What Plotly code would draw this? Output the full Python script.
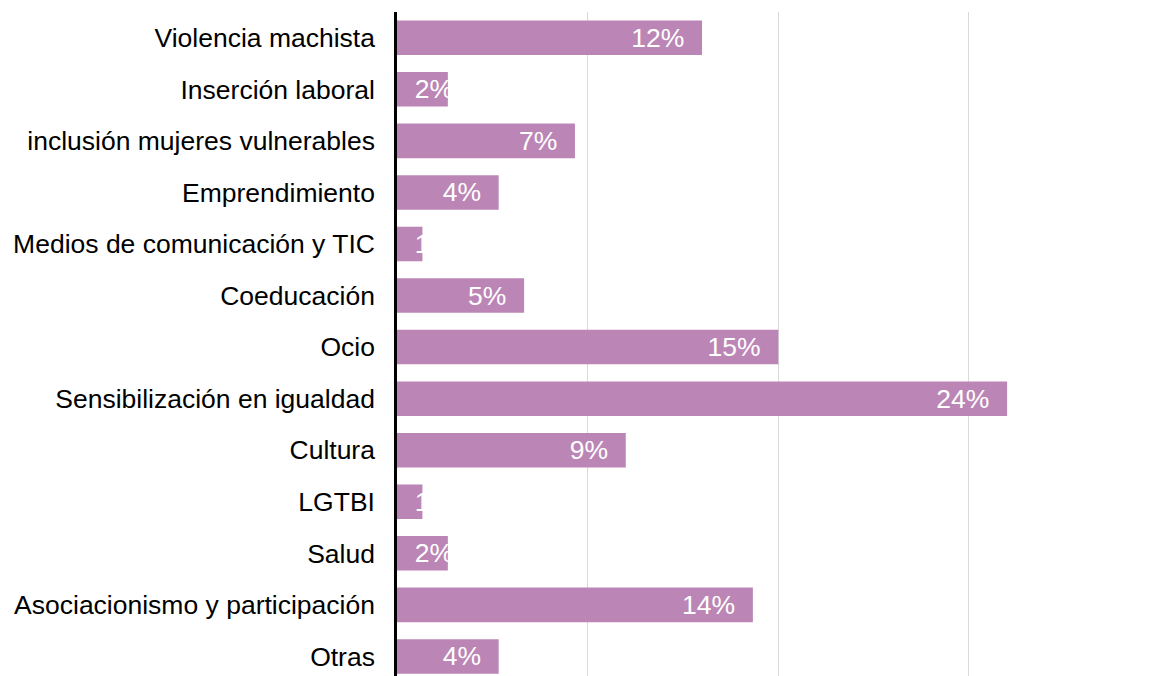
import plotly.graph_objects as go

categories = [
    "Violencia machista",
    "Inserción laboral",
    "inclusión mujeres vulnerables",
    "Emprendimiento",
    "Medios de comunicación y TIC",
    "Coeducación",
    "Ocio",
    "Sensibilización en igualdad",
    "Cultura",
    "LGTBI",
    "Salud",
    "Asociacionismo y participación",
    "Otras",
]
values = [12, 2, 7, 4, 1, 5, 15, 24, 9, 1, 2, 14, 4]

BAR_COLOR = "#bb86b6"
FONT = "Liberation Sans, Arial, sans-serif"
NB = "\u00a0"
SMALL = 3  # bars narrower than this keep their label at the start

big_cats = [c for c, v in zip(categories, values) if v >= SMALL]
big_vals = [v for v in values if v >= SMALL]
small_cats = [c for c, v in zip(categories, values) if v < SMALL]
small_vals = [v for v in values if v < SMALL]

fig = go.Figure()
fig.add_trace(go.Bar(
    y=big_cats, x=big_vals, orientation="h",
    marker=dict(color=BAR_COLOR, line=dict(width=0)),
    text=[f"{v}%{NB}{NB}" for v in big_vals],
    textposition="inside", insidetextanchor="end",
    constraintext="none", textangle=0,
    textfont=dict(family=FONT, size=26.5, color="white"),
    hoverinfo="skip",
))
fig.add_trace(go.Bar(
    y=small_cats, x=small_vals, orientation="h",
    marker=dict(color=BAR_COLOR, line=dict(width=0)),
    text=[f"{NB}{NB}{v}%" for v in small_vals],
    textposition="inside", insidetextanchor="start",
    constraintext="none", textangle=0,
    textfont=dict(family=FONT, size=26.5, color="white"),
    hoverinfo="skip",
))

fig.update_layout(
    width=1153, height=676,
    margin=dict(l=397, r=0, t=12, b=0),
    paper_bgcolor="white", plot_bgcolor="white",
    barmode="overlay", bargap=0.33,
    showlegend=False,
    font=dict(family=FONT, size=26.5, color="black"),
)
fig.update_xaxes(
    range=[0, 29.74], dtick=7.5, tick0=0,
    showgrid=True, gridcolor="#d9d9d9", gridwidth=1,
    showticklabels=False, zeroline=False, showline=False, ticks="",
    fixedrange=True,
)
fig.update_yaxes(
    categoryorder="array", categoryarray=categories,
    range=[12.38, -0.5],
    showline=True, linecolor="black", linewidth=2.5,
    ticks="", ticklabelstandoff=14,
    tickfont=dict(family=FONT, size=26.5, color="black"),
    showgrid=False, zeroline=False, automargin=False,
    fixedrange=True,
)

fig.write_html(
    "out.html",
    config={"displayModeBar": False},
    post_script="document.body.style.margin='0';document.body.style.overflow='hidden';",
)
